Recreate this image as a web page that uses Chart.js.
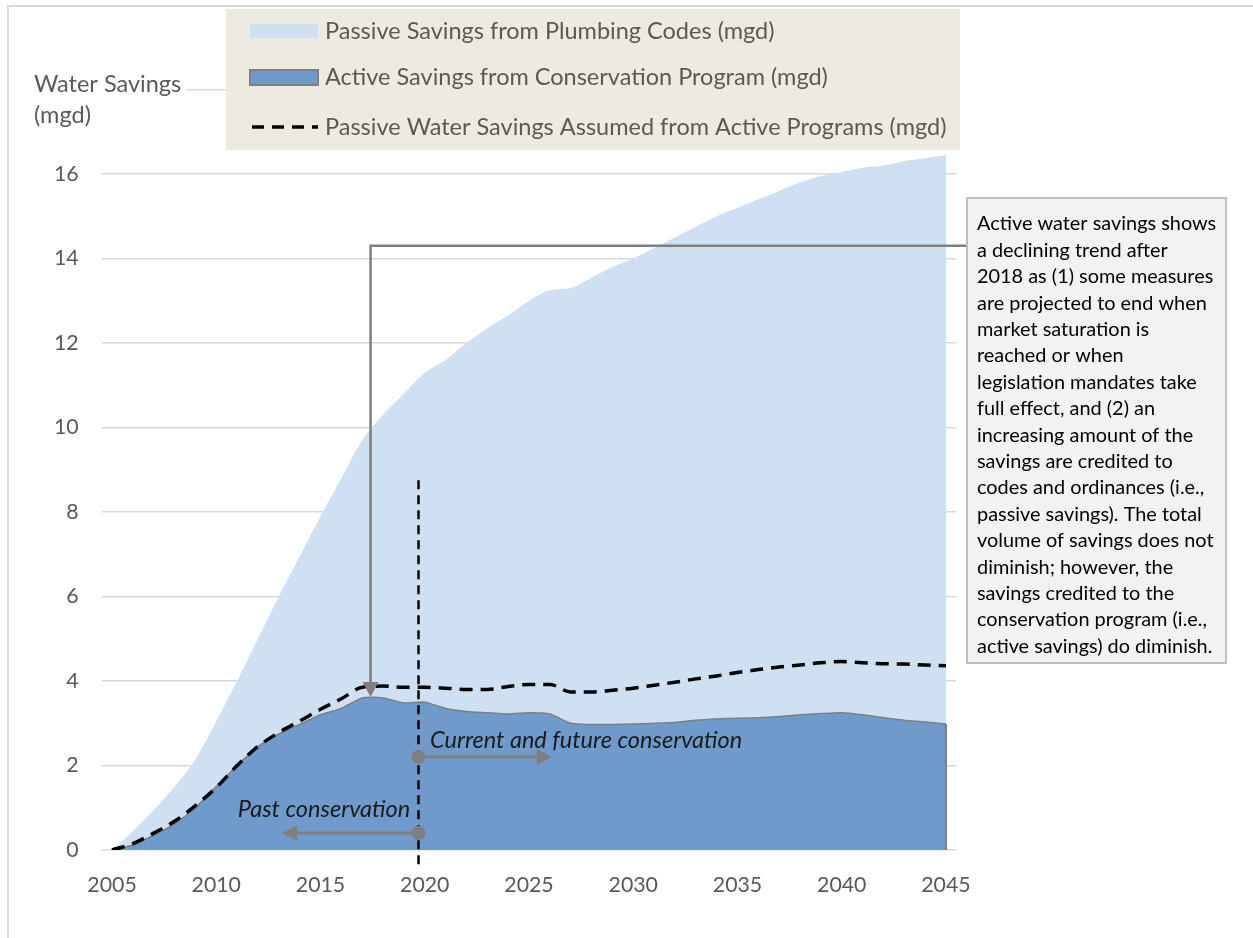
<!DOCTYPE html>
<html>
<head>
<meta charset="utf-8">
<script src="https://cdn.jsdelivr.net/npm/chart.js@4/dist/chart.umd.min.js"></script>
<style>
  html, body { margin: 0; padding: 0; background: #fff; }
  #wrap { width: 1253px; height: 938px; position: relative; }
</style>
</head>
<body>
<div id="wrap"><canvas id="savings"></canvas></div>
<script>
// years 2005..2045
var years = [];
for (var y = 2005; y <= 2045; y++) years.push(String(y));

// top edge of the light area (plumbing codes), mgd
var passiveCodes = [0, 0.45, 0.95, 1.5, 2.15, 3.05, 4.0, 5.0, 6.0, 6.95,
  7.9, 8.8, 9.7, 10.3, 10.8, 11.3, 11.6, 12.0, 12.35, 12.65,
  13.0, 13.25, 13.3, 13.55, 13.8, 14.0, 14.25, 14.5, 14.75, 15.0,
  15.2, 15.4, 15.6, 15.8, 15.95, 16.05, 16.15, 16.2, 16.3, 16.38, 16.45];

// active savings from conservation program, mgd
var activeProgram = [0, 0.12, 0.35, 0.62, 1.0, 1.5, 2.0, 2.45, 2.75, 2.97,
  3.2, 3.35, 3.6, 3.6, 3.48, 3.5, 3.35, 3.28, 3.25, 3.22,
  3.25, 3.22, 3.0, 2.97, 2.97, 2.98, 3.0, 3.02, 3.07, 3.1,
  3.12, 3.13, 3.16, 3.2, 3.23, 3.25, 3.2, 3.13, 3.07, 3.03, 2.98];

// passive savings assumed from active programs, mgd
var passiveAssumed = [0, 0.15, 0.4, 0.68, 1.05, 1.48, 2.0, 2.45, 2.78, 3.05,
  3.33, 3.58, 3.85, 3.88, 3.85, 3.85, 3.83, 3.8, 3.8, 3.87,
  3.92, 3.92, 3.74, 3.74, 3.78, 3.83, 3.9, 3.97, 4.05, 4.12,
  4.2, 4.27, 4.33, 4.38, 4.43, 4.46, 4.43, 4.41, 4.4, 4.38, 4.36];

var yTicks = [0, 2, 4, 6, 8, 10, 12, 14, 16, 18];

var legendLabels = [
  'Passive Savings from Plumbing Codes (mgd)',
  'Active Savings from Conservation Program (mgd)',
  'Passive Water Savings Assumed from Active Programs (mgd)'
];

var noteLines = [
  'Active water savings shows',
  'a declining trend after',
  '2018 as (1) some measures',
  'are projected to end when',
  'market saturation is',
  'reached or when',
  'legislation mandates take',
  'full effect, and (2) an',
  'increasing amount of the',
  'savings are credited to',
  'codes and ordinances (i.e.,',
  'passive savings). The total',
  'volume of savings does not',
  'diminish; however, the',
  'savings credited to the',
  'conservation program (i.e.,',
  'active savings) do diminish.'
];

var FONT = 'Lato, "Open Sans", sans-serif';
var LIGHT = '#cfe0f2';
var DARK = '#6f9acb';
var GREY = '#7f7f7f';

function arrowHead(ctx, x, y, dir, len, half) {
  // dir: 'right' | 'left' | 'down'
  ctx.beginPath();
  if (dir === 'right') { ctx.moveTo(x, y); ctx.lineTo(x - len, y - half); ctx.lineTo(x - len, y + half); }
  if (dir === 'left')  { ctx.moveTo(x, y); ctx.lineTo(x + len, y - half); ctx.lineTo(x + len, y + half); }
  if (dir === 'down')  { ctx.moveTo(x, y); ctx.lineTo(x - half, y - len); ctx.lineTo(x + half, y - len); }
  ctx.closePath();
  ctx.fill();
}

var extras = {
  id: 'extras',
  beforeDraw: function(chart) {
    var ctx = chart.ctx;
    ctx.save();
    ctx.fillStyle = '#fff';
    ctx.fillRect(0, 0, chart.width, chart.height);
    ctx.strokeStyle = '#d9d9d9';
    ctx.lineWidth = 2;
    ctx.beginPath();
    ctx.moveTo(8, chart.height);
    ctx.lineTo(8, 6);
    ctx.lineTo(chart.width, 6);
    ctx.stroke();
    ctx.restore();
  },
  afterDatasetsDraw: function(chart) {
    var ctx = chart.ctx;
    var xs = chart.scales.x, ys = chart.scales.y;
    var last = activeProgram.length - 1;
    ctx.save();

    // right edge of active area
    ctx.strokeStyle = GREY;
    ctx.lineWidth = 2;
    ctx.beginPath();
    ctx.moveTo(xs.getPixelForValue(last), ys.getPixelForValue(activeProgram[last]));
    ctx.lineTo(xs.getPixelForValue(last), ys.getPixelForValue(0));
    ctx.stroke();

    // 2020 divider
    var xd = xs.getPixelForValue(14.7);
    ctx.strokeStyle = '#000';
    ctx.lineWidth = 2.5;
    ctx.setLineDash([9, 6]);
    ctx.beginPath();
    ctx.moveTo(xd, ys.getPixelForValue(8.75));
    ctx.lineTo(xd, ys.getPixelForValue(-0.4));
    ctx.stroke();
    ctx.setLineDash([]);

    // current / past arrows
    ctx.strokeStyle = GREY;
    ctx.fillStyle = GREY;
    ctx.lineWidth = 3;
    var yc = ys.getPixelForValue(2.2), yp = ys.getPixelForValue(0.4);
    var xr = xs.getPixelForValue(21.1), xl = xs.getPixelForValue(8.15);
    ctx.beginPath(); ctx.moveTo(xd, yc); ctx.lineTo(xr - 12, yc); ctx.stroke();
    arrowHead(ctx, xr, yc, 'right', 15, 8);
    ctx.beginPath(); ctx.moveTo(xd, yp); ctx.lineTo(xl + 12, yp); ctx.stroke();
    arrowHead(ctx, xl, yp, 'left', 15, 8);
    ctx.beginPath(); ctx.arc(xd, yc, 7, 0, Math.PI * 2); ctx.fill();
    ctx.beginPath(); ctx.arc(xd, yp, 7, 0, Math.PI * 2); ctx.fill();

    ctx.fillStyle = '#1a1a1a';
    ctx.font = 'italic 23.5px ' + FONT;
    ctx.textBaseline = 'middle';
    ctx.textAlign = 'left';
    ctx.fillText('Current and future conservation', xs.getPixelForValue(15.25), ys.getPixelForValue(2.6));
    ctx.textAlign = 'right';
    ctx.fillText('Past conservation', xs.getPixelForValue(14.3), ys.getPixelForValue(0.97));

    // callout connector
    var boxX = 967, boxY = 198, boxW = 259, boxH = 465;
    var xa = xs.getPixelForValue(12.4), ya = ys.getPixelForValue(14.3);
    var tip = ys.getPixelForValue(3.62);
    ctx.strokeStyle = GREY;
    ctx.fillStyle = GREY;
    ctx.lineWidth = 2.5;
    ctx.beginPath();
    ctx.moveTo(boxX, ya);
    ctx.lineTo(xa, ya);
    ctx.lineTo(xa, tip - 12);
    ctx.stroke();
    arrowHead(ctx, xa, tip, 'down', 15, 8);

    // callout box
    ctx.fillStyle = '#f2f2f2';
    ctx.fillRect(boxX, boxY, boxW, boxH);
    ctx.strokeStyle = '#bfbfbf';
    ctx.lineWidth = 2;
    ctx.strokeRect(boxX, boxY, boxW, boxH);
    ctx.fillStyle = '#000';
    ctx.font = '19.9px ' + FONT;
    ctx.textAlign = 'left';
    ctx.textBaseline = 'middle';
    noteLines.forEach(function(t, i) {
      ctx.fillText(t, boxX + 10, 224 + i * 26.4);
    });

    // y-axis title
    ctx.fillStyle = '#fff';
    ctx.fillRect(28, 68, 158, 60);
    ctx.fillStyle = '#595959';
    ctx.font = '23.5px ' + FONT;
    ctx.fillText('Water Savings', 34, 84);
    ctx.fillText('(mgd)', 34, 115);

    // legend
    ctx.fillStyle = '#eceae1';
    ctx.fillRect(226, 9, 734, 141);
    ctx.fillStyle = LIGHT;
    ctx.fillRect(250, 24, 68, 14);
    ctx.fillStyle = DARK;
    ctx.fillRect(250, 70, 68, 15);
    ctx.strokeStyle = GREY;
    ctx.lineWidth = 2;
    ctx.strokeRect(250, 70, 68, 15);
    ctx.strokeStyle = '#000';
    ctx.lineWidth = 3.5;
    ctx.setLineDash([12, 8]);
    ctx.beginPath(); ctx.moveTo(252, 127); ctx.lineTo(318, 127); ctx.stroke();
    ctx.setLineDash([]);
    ctx.fillStyle = '#595959';
    ctx.font = '23.5px ' + FONT;
    ctx.fillText(legendLabels[0], 325, 31);
    ctx.fillText(legendLabels[1], 325, 77);
    ctx.fillText(legendLabels[2], 325, 127);

    ctx.restore();
  }
};

var chart = new Chart(document.getElementById('savings'), {
  type: 'line',
  data: {
    labels: years,
    datasets: [
      {
        label: legendLabels[2],
        data: passiveAssumed,
        borderColor: '#000',
        borderWidth: 3.5,
        borderDash: [13, 8],
        pointRadius: 0,
        fill: false,
        cubicInterpolationMode: 'monotone',
        order: 0
      },
      {
        label: legendLabels[1],
        data: activeProgram,
        borderColor: GREY,
        borderWidth: 1.5,
        backgroundColor: DARK,
        pointRadius: 0,
        fill: 'origin',
        tension: 0.2,
        order: 1
      },
      {
        label: legendLabels[0],
        data: passiveCodes,
        borderWidth: 0,
        borderColor: LIGHT,
        backgroundColor: LIGHT,
        pointRadius: 0,
        fill: 'origin',
        cubicInterpolationMode: 'monotone',
        order: 2
      }
    ]
  },
  options: {
    responsive: true,
    maintainAspectRatio: false,
    animation: false,
    layout: { padding: { left: 0, right: 296.6, top: 89.5, bottom: 28 } },
    plugins: { legend: { display: false }, tooltip: { enabled: false } },
    scales: {
      x: {
        type: 'category',
        offset: true,
        grid: { display: false, drawTicks: false },
        border: { display: false },
        afterFit: function(s) { s.height = 60; },
        ticks: {
          autoSkip: false,
          maxRotation: 0,
          padding: 22,
          color: '#595959',
          font: { family: FONT, size: 21.3 },
          callback: function(v, i) { return (2005 + i) % 5 === 0 ? years[i] : ''; }
        }
      },
      y: {
        min: 0,
        max: 18,
        afterFit: function(s) { s.width = 101.6; },
        afterBuildTicks: function(s) { s.ticks = yTicks.map(function(v) { return { value: v }; }); },
        grid: { color: '#d9d9d9', lineWidth: 1.5, drawTicks: false },
        border: { display: false },
        ticks: {
          padding: 23,
          color: '#595959',
          font: { family: FONT, size: 21.3 },
          callback: function(v) { return v === 18 ? '' : v; }
        }
      }
    }
  },
  plugins: [extras]
});
</script>
</body>
</html>
